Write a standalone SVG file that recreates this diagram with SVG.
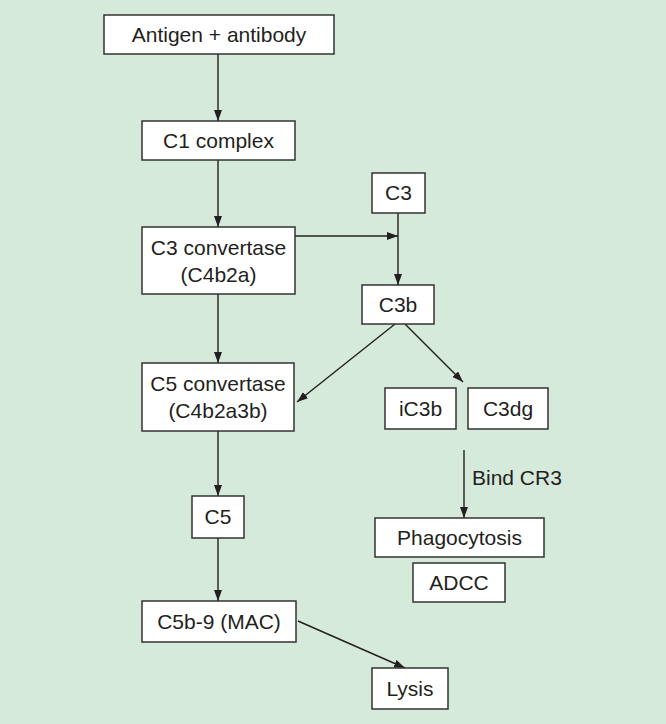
<svg xmlns="http://www.w3.org/2000/svg" width="666" height="724" viewBox="0 0 666 724">
<style>
.box{fill:#fff;stroke:#333;stroke-width:1.5}
.t{font-family:"Liberation Sans",Arial,sans-serif;font-size:21px;fill:#231f20;text-anchor:middle}
.l{font-family:"Liberation Sans",Arial,sans-serif;font-size:21px;fill:#231f20}
.c{stroke:#231f20;stroke-width:1.4;fill:none}
.ca{stroke:#231f20;stroke-width:1.4;fill:none;marker-end:url(#ah)}
</style>
<defs>
<marker id="ah" markerUnits="userSpaceOnUse" markerWidth="12" markerHeight="10" refX="11" refY="4" orient="auto">
<path d="M0,0 L11,4 L0,8 Z" fill="#231f20"/>
</marker>
</defs>
<rect width="666" height="724" fill="#d6eadc"/>
<g id="connectors">
<line class="ca" x1="218" y1="54" x2="218" y2="121"/>
<line class="ca" x1="218" y1="160" x2="218" y2="227"/>
<line class="ca" x1="295" y1="236" x2="398" y2="236"/>
<line class="ca" x1="398" y1="213" x2="398" y2="285"/>
<line class="ca" x1="218" y1="294" x2="218" y2="363"/>
<line class="ca" x1="395" y1="324" x2="297" y2="402"/>
<line class="ca" x1="405" y1="324" x2="463" y2="382"/>
<line class="ca" x1="464" y1="450" x2="464" y2="518"/>
<line class="ca" x1="218" y1="431" x2="218" y2="496"/>
<line class="ca" x1="218" y1="538" x2="218" y2="601"/>
<line class="ca" x1="298" y1="621" x2="405" y2="668"/>
<text class="l" x="472" y="485">Bind CR3</text>
</g>
<g id="antigen"><rect class="box" x="104" y="15" width="230" height="39"/><text class="t" x="219" y="42">Antigen + antibody</text></g>
<g id="c1"><rect class="box" x="142" y="121" width="153" height="39"/><text class="t" x="218.5" y="148">C1 complex</text></g>
<g id="c3conv"><rect class="box" x="142" y="227" width="153" height="67"/><text class="t" x="218.5" y="255">C3 convertase</text><text class="t" x="218.5" y="282">(C4b2a)</text></g>
<g id="c3"><rect class="box" x="372" y="173" width="53" height="40"/><text class="t" x="398.5" y="200">C3</text></g>
<g id="c3b"><rect class="box" x="362" y="285" width="72" height="39"/><text class="t" x="398" y="312">C3b</text></g>
<g id="c5conv"><rect class="box" x="142" y="363" width="152" height="68"/><text class="t" x="218" y="391">C5 convertase</text><text class="t" x="218" y="418">(C4b2a3b)</text></g>
<g id="ic3b"><rect class="box" x="385" y="388" width="71" height="41"/><text class="t" x="420.5" y="416">iC3b</text></g>
<g id="c3dg"><rect class="box" x="468" y="388" width="80" height="41"/><text class="t" x="508" y="416">C3dg</text></g>
<g id="phago"><rect class="box" x="375" y="518" width="169" height="39"/><text class="t" x="459.5" y="545">Phagocytosis</text></g>
<g id="adcc"><rect class="box" x="413" y="563" width="92" height="39"/><text class="t" x="459" y="590">ADCC</text></g>
<g id="c5"><rect class="box" x="192" y="496" width="52" height="42"/><text class="t" x="218" y="524">C5</text></g>
<g id="mac"><rect class="box" x="142" y="601" width="154" height="41"/><text class="t" x="219" y="629">C5b-9 (MAC)</text></g>
<g id="lysis"><rect class="box" x="372" y="668" width="76" height="41"/><text class="t" x="410" y="696">Lysis</text></g>
</svg>
